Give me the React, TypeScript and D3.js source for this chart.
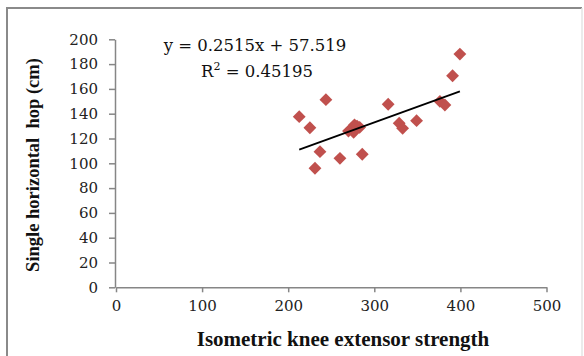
import { useEffect, useRef } from "react";
import * as d3 from "d3";

const strength = [212.8, 225.2, 243.8, 236.9, 231.1, 260.1, 286.0, 270.0, 274.0, 277.0, 280.0, 283.0, 276.0, 316.1, 328.9, 332.9, 349.1, 376.2, 382.0, 390.9, 399.4];
const hop = [137.6, 128.7, 151.3, 109.4, 96.0, 104.0, 107.3, 126.0, 128.0, 131.0, 130.0, 129.0, 125.0, 147.6, 132.3, 128.2, 134.4, 150.0, 147.0, 170.6, 188.1];
const xTicks = [0, 100, 200, 300, 400, 500];
const yTicks = [0, 20, 40, 60, 80, 100, 120, 140, 160, 180, 200];
const slope = 0.2515;
const intercept = 57.519;
const trendRange = [212.8, 399.4];

export default function App() {
    const chartRef = useRef<SVGSVGElement | null>(null);

    useEffect(() => {
        if (!chartRef.current) return;
        const width = 584;
        const height = 356;

        const svg = d3.select(chartRef.current);
        svg.selectAll("*").remove();
        svg.attr("width", width).attr("height", height);

        svg.append("rect").attr("width", width).attr("height", height).attr("fill", "#fff");

        // frame
        svg.append("path")
            .attr("d", "M7,360 V8 H582")
            .attr("fill", "none")
            .attr("stroke", "#8a8a8a")
            .attr("stroke-width", 2);
        svg.append("line")
            .attr("x1", 582).attr("x2", 582).attr("y1", 8).attr("y2", 360)
            .attr("stroke", "#e4e4e4").attr("stroke-width", 1.5);

        const x = d3.scaleLinear().domain([0, 500]).range([116, 546.5]);
        const y = d3.scaleLinear().domain([0, 200]).range([287.3, 39.3]);
        const axisColor = "#868686";
        const serif = "'DejaVu Serif', serif";

        const xAxis = svg.append("g")
            .attr("transform", `translate(0,${y(0)})`)
            .call(d3.axisBottom(x).tickValues(xTicks).tickSize(5).tickPadding(8).tickSizeOuter(0));
        const yAxis = svg.append("g")
            .attr("transform", `translate(${x(0) - 1},0)`)
            .call(d3.axisLeft(y).tickValues(yTicks).tickSize(6).tickPadding(11).tickSizeOuter(0));

        [xAxis, yAxis].forEach((g) => {
            g.select(".domain").attr("stroke", axisColor).attr("stroke-width", 1.5);
            g.selectAll(".tick line").attr("stroke", axisColor).attr("stroke-width", 1.5);
            g.selectAll(".tick text")
                .attr("fill", "#222")
                .style("font-family", serif)
                .style("font-size", "15px");
        });

        // points
        const diamond = d3.symbol().type(d3.symbolDiamond2).size(105);
        svg.append("g")
            .selectAll("path")
            .data(strength.map((s, i) => [s, hop[i]]))
            .enter()
            .append("path")
            .attr("d", diamond)
            .attr("transform", (d) => `translate(${x(d[0])},${y(d[1])})`)
            .attr("fill", "#C0504D");

        // trendline
        svg.append("line")
            .attr("x1", x(trendRange[0]))
            .attr("y1", y(slope * trendRange[0] + intercept))
            .attr("x2", x(trendRange[1]))
            .attr("y2", y(slope * trendRange[1] + intercept))
            .attr("stroke", "#000")
            .attr("stroke-width", 1.8);

        // equation
        const eq = svg.append("g")
            .style("font-family", serif)
            .style("font-size", "16.5px")
            .attr("fill", "#111")
            .attr("text-anchor", "middle");
        eq.append("text").attr("x", 255).attr("y", 51).text(`y = ${slope}x + ${intercept}`);
        const r2 = eq.append("text").attr("x", 257).attr("y", 77);
        r2.append("tspan").text("R");
        r2.append("tspan").attr("dy", -7).style("font-size", "11px").text("2");
        r2.append("tspan").attr("dy", 7).text(" = 0.45195");

        // axis titles
        svg.append("text")
            .attr("x", 343)
            .attr("y", 346)
            .attr("text-anchor", "middle")
            .style("font-family", "'Liberation Serif', serif")
            .style("font-weight", "bold")
            .style("font-size", "21px")
            .attr("fill", "#111")
            .text("Isometric knee extensor strength");

        svg.append("text")
            .attr("transform", "translate(39,165) rotate(-90)")
            .attr("text-anchor", "middle")
            .style("font-family", "'Liberation Serif', serif")
            .style("font-weight", "bold")
            .style("font-size", "18.5px")
            .attr("fill", "#111")
            .style("white-space", "pre")
            .text("Single horizontal  hop (cm)");
    }, []);

    return (
        <svg
            ref={(el) => { if (el) chartRef.current = el; }}
            style={{ position: "absolute", left: 0, top: 0, display: "block" }}
        ></svg>
    );
}
